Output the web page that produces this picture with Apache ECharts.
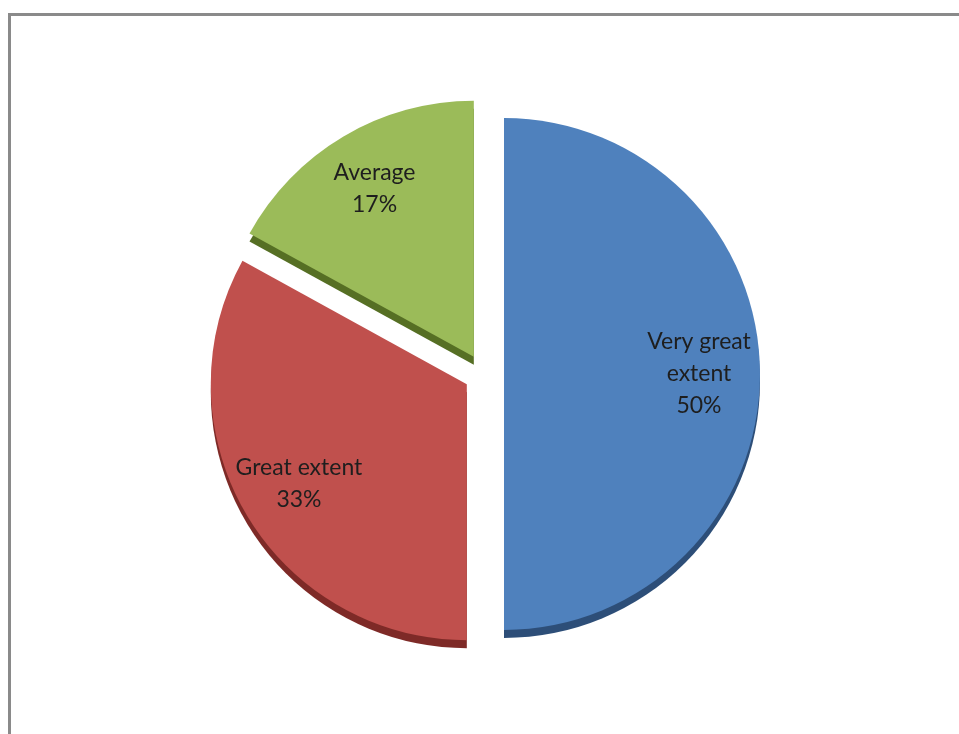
<!DOCTYPE html>
<html>
<head>
<meta charset="utf-8">
<script src="https://cdn.jsdelivr.net/npm/echarts@6/dist/echarts.min.js"></script>
<style>
html,body{margin:0;padding:0;background:#fff;}
#chart{width:959px;height:734px;}
</style>
</head>
<body>
<div id="chart"></div>
<script>
const categories = ['Very great\nextent', 'Great extent', 'Average'];
const values = [50, 33, 17];
const faceColors = ['#4F81BD', '#C0504D', '#9BBB59'];
const edgeColors = ['#2D4E78', '#7E2A27', '#566F24'];

const chart = echarts.init(document.getElementById('chart'));
const C = [484, 374];
const R = 256;
const OFF = 20;
const DEPTH = 8;

function items(colors) {
  return categories.map((c, i) => ({
    name: c, value: values[i], selected: true,
    itemStyle: { color: colors[i] }
  }));
}

chart.setOption({
  animation: false,
  backgroundColor: '#ffffff',
  graphic: [{
    type: 'rect', shape: { x: 9.5, y: 14.5, width: 970, height: 740 },
    style: { fill: 'none', stroke: '#8a8a8a', lineWidth: 3 }, silent: true
  }],
  series: [
    {
      type: 'pie', center: [C[0], C[1] + DEPTH], radius: R,
      selectedMode: 'multiple', selectedOffset: OFF,
      startAngle: 90, clockwise: true, silent: true,
      label: { show: false }, labelLine: { show: false },
      emphasis: { disabled: true },
      data: items(edgeColors)
    },
    {
      type: 'pie', center: C, radius: R,
      selectedMode: 'multiple', selectedOffset: OFF,
      startAngle: 90, clockwise: true, silent: true,
      label: { show: false }, labelLine: { show: false },
      emphasis: { disabled: true },
      data: items(faceColors)
    },
    {
      type: 'pie', center: C, radius: [R * 0.5, R],
      selectedMode: 'multiple', selectedOffset: OFF,
      startAngle: 90, clockwise: true, silent: true,
      itemStyle: { color: 'rgba(0,0,0,0)' },
      label: {
        show: true, position: 'inside',
        formatter: p => p.name + '\n' + p.value + '%',
        fontFamily: 'Lato', fontSize: 23, color: '#1e1e1e',
        lineHeight: 32, align: 'center'
      },
      labelLine: { show: false },
      emphasis: { disabled: true },
      data: categories.map((c, i) => ({ name: c, value: values[i], selected: true }))
    }
  ]
});
</script>
</body>
</html>
